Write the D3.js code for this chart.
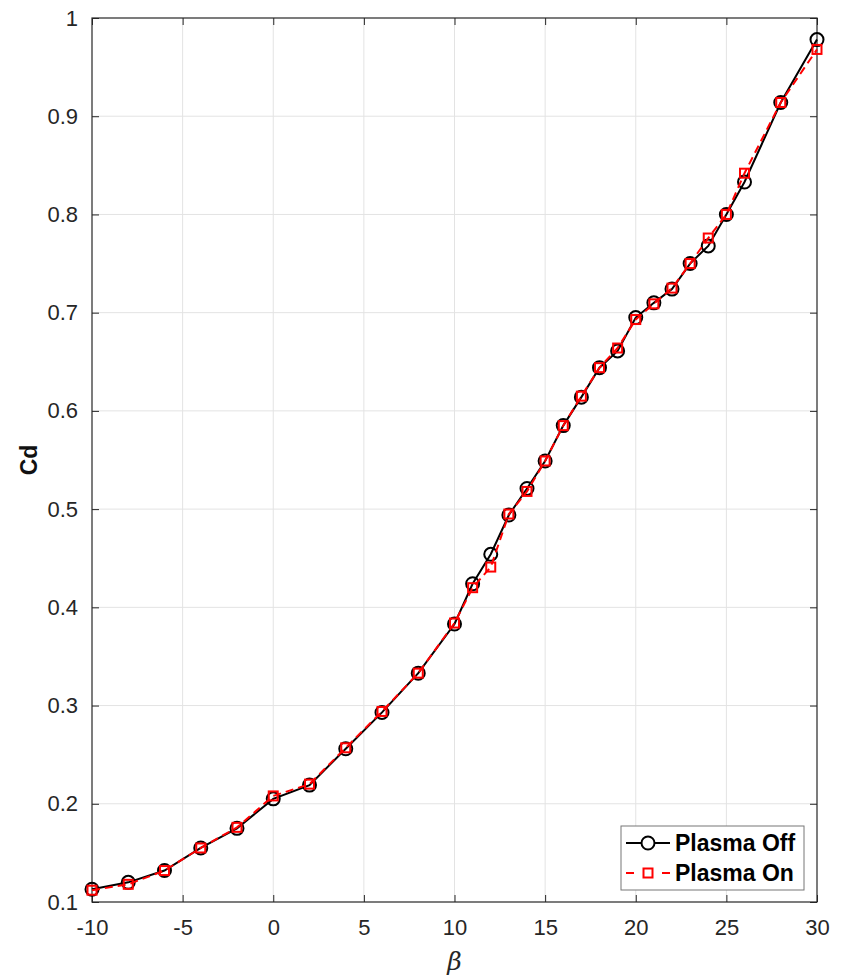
<!DOCTYPE html>
<html>
<head>
<meta charset="utf-8">
<script src="https://cdn.jsdelivr.net/npm/d3@7"></script>
<style>
  body { margin: 0; background: #fff; }
  svg { display: block; font-family: "Liberation Sans", Arial, sans-serif; }
</style>
</head>
<body>
<svg width="844" height="976"></svg>
<script>
'use strict';

var betaValues = [-10, -8, -6, -4, -2, 0, 2, 4, 6, 8, 10, 11, 12, 13, 14, 15, 16, 17, 18, 19, 20, 21, 22, 23, 24, 25, 26, 28, 30];
var cdPlasmaOff = [0.113, 0.120, 0.132, 0.155, 0.175, 0.205, 0.219, 0.256, 0.293, 0.333, 0.383, 0.424, 0.454, 0.494, 0.521, 0.549, 0.585, 0.614, 0.644, 0.661, 0.695, 0.710, 0.724, 0.750, 0.768, 0.800, 0.833, 0.914, 0.978];
var cdPlasmaOn = [0.112, 0.118, 0.132, 0.155, 0.176, 0.208, 0.220, 0.257, 0.294, 0.333, 0.384, 0.420, 0.441, 0.495, 0.518, 0.549, 0.585, 0.615, 0.644, 0.664, 0.693, 0.709, 0.725, 0.750, 0.776, 0.800, 0.842, 0.914, 0.968];
var xTicks = [-10, -5, 0, 5, 10, 15, 20, 25, 30];
var yTicks = [0.1, 0.2, 0.3, 0.4, 0.5, 0.6, 0.7, 0.8, 0.9, 1];
var seriesNames = ['Plasma Off', 'Plasma On'];

var svg = d3.select('svg'),
    plotLeft = 92, plotTop = 18, plotRight = 817, plotBottom = 902,
    width = plotRight - plotLeft,
    height = plotBottom - plotTop,
    canvas = svg.append('g').attr('transform', 'translate(' + plotLeft + ',' + plotTop + ')');

var x = d3.scaleLinear().domain([-10, 30]).range([0, width]);
var y = d3.scaleLinear().domain([0.1, 1]).range([height, 0]);

var axisColor = '#262626';

// grid
canvas.append('g').selectAll('line').data(xTicks.slice(1, -1)).enter().append('line')
    .attr('x1', function(d) { return x(d); }).attr('x2', function(d) { return x(d); })
    .attr('y1', 0).attr('y2', height)
    .attr('stroke', '#e3e3e3').attr('stroke-width', 1);
canvas.append('g').selectAll('line').data(yTicks.slice(1, -1)).enter().append('line')
    .attr('y1', function(d) { return y(d); }).attr('y2', function(d) { return y(d); })
    .attr('x1', 0).attr('x2', width)
    .attr('stroke', '#e3e3e3').attr('stroke-width', 1);

// axes (ticks inside, on all four sides)
function styleAxis(g) {
    g.select('.domain').remove();
    g.selectAll('line').attr('stroke', axisColor);
    g.selectAll('text').attr('fill', axisColor).style('font-size', '22px');
}
var plainNum = function(d) { return String(d); };
canvas.append('g').attr('transform', 'translate(0,' + height + ')')
    .call(d3.axisBottom(x).tickValues(xTicks).tickSizeInner(-7).tickSizeOuter(0).tickPadding(17).tickFormat(plainNum))
    .call(styleAxis);
canvas.append('g')
    .call(d3.axisTop(x).tickValues(xTicks).tickSizeInner(-7).tickSizeOuter(0).tickFormat(''))
    .call(styleAxis);
canvas.append('g')
    .call(d3.axisLeft(y).tickValues(yTicks).tickSizeInner(-7).tickSizeOuter(0).tickPadding(14).tickFormat(plainNum))
    .call(styleAxis);
canvas.append('g').attr('transform', 'translate(' + width + ',0)')
    .call(d3.axisRight(y).tickValues(yTicks).tickSizeInner(-7).tickSizeOuter(0).tickFormat(''))
    .call(styleAxis);

canvas.append('rect')
    .attr('width', width).attr('height', height)
    .attr('fill', 'none').attr('stroke', axisColor).attr('stroke-width', 1.2);

// axis labels
svg.append('text')
    .attr('transform', 'translate(37,' + (plotTop + height / 2) + ') rotate(-90)')
    .attr('text-anchor', 'middle')
    .style('font-size', '23px').style('font-weight', 'bold')
    .attr('fill', '#111')
    .text('Cd');
svg.append('text')
    .attr('x', plotLeft + width / 2).attr('y', 970)
    .attr('text-anchor', 'middle')
    .style('font-size', '25px').style('font-style', 'italic')
    .style('font-family', '"DejaVu Serif", "Liberation Serif", serif')
    .attr('fill', axisColor)
    .text('β');

// series
var offData = betaValues.map(function(b, i) { return {beta: b, cd: cdPlasmaOff[i]}; });
var onData = betaValues.map(function(b, i) { return {beta: b, cd: cdPlasmaOn[i]}; });

var line = d3.line()
    .x(function(d) { return x(d.beta); })
    .y(function(d) { return y(d.cd); });

canvas.append('path').datum(offData)
    .attr('d', line).attr('fill', 'none')
    .attr('stroke', '#000').attr('stroke-width', 2);
canvas.append('g').selectAll('circle').data(offData).enter().append('circle')
    .attr('cx', function(d) { return x(d.beta); })
    .attr('cy', function(d) { return y(d.cd); })
    .attr('r', 6.5)
    .attr('fill', 'none').attr('stroke', '#000').attr('stroke-width', 2);

canvas.append('path').datum(onData)
    .attr('d', line).attr('fill', 'none')
    .attr('stroke', '#ff0000').attr('stroke-width', 2)
    .attr('stroke-dasharray', '8,5');
canvas.append('g').selectAll('rect').data(onData).enter().append('rect')
    .attr('x', function(d) { return x(d.beta) - 4.5; })
    .attr('y', function(d) { return y(d.cd) - 4.5; })
    .attr('width', 9).attr('height', 9)
    .attr('fill', 'none').attr('stroke', '#ff0000').attr('stroke-width', 2);

// legend
var legend = svg.append('g').attr('transform', 'translate(621,826)');
legend.append('rect')
    .attr('width', 183).attr('height', 64)
    .attr('fill', '#fff').attr('stroke', '#777').attr('stroke-width', 1);

var items = legend.selectAll('g.item').data(seriesNames).enter().append('g')
    .attr('class', 'item')
    .attr('transform', function(d, i) { return 'translate(0,' + (17 + i * 30) + ')'; });

items.append('line')
    .attr('x1', 5).attr('x2', 49).attr('y1', 0).attr('y2', 0)
    .attr('stroke', function(d, i) { return i === 0 ? '#000' : '#ff0000'; })
    .attr('stroke-width', 2)
    .attr('stroke-dasharray', function(d, i) { return i === 0 ? null : '8,28'; });
items.filter(function(d, i) { return i === 0; }).append('circle')
    .attr('cx', 27).attr('cy', 0).attr('r', 6.5)
    .attr('fill', '#fff').attr('stroke', '#000').attr('stroke-width', 2);
items.filter(function(d, i) { return i === 1; }).append('rect')
    .attr('x', 22.5).attr('y', -4.5).attr('width', 9).attr('height', 9)
    .attr('fill', '#fff').attr('stroke', '#ff0000').attr('stroke-width', 2);
items.append('text')
    .attr('x', 54).attr('y', 8)
    .style('font-size', '23px').style('font-weight', 'bold')
    .attr('fill', '#000')
    .text(function(d) { return d; });
</script>
</body>
</html>
